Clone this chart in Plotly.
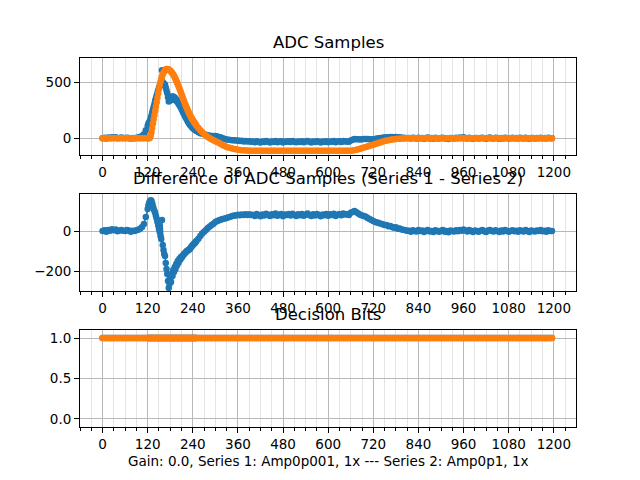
import plotly.graph_objects as go

# ---- data: sample index (denser sampling around the pulse) ----
samples = list(range(0, 120, 5)) + list(range(120, 250, 2)) + list(range(250, 1200, 5))

series2 = [
    # t = 0..115 step 5
    0, 0, 0, 0, 0, 0, 0, 0, 0, 0,
    0, 0, 0, 0, 0, 0, 0, 0, 0, 0,
    0, 0, 0, 0,
    # t = 120..248 step 2
    0, 0, 0, 5, 22, 50, 90, 130, 170, 207,
    245, 283, 321, 360, 400, 440, 472, 502, 527, 550,
    570, 583, 595, 604, 611, 615, 616, 614, 611, 606,
    600, 593, 586, 577, 567, 555, 542, 528, 513, 497,
    480, 463, 446, 429, 411, 392, 373, 354, 336, 318,
    300, 284, 268, 252, 237, 223, 210, 197, 184, 172,
    162, 151, 141, 131, 122,
    # t = 250..1195 step 5
    112, 92, 70, 54, 38, 24, 11, 0, -10, -18,
    -26, -34, -43, -52, -62, -70, -77, -83, -88, -92,
    -96, -99, -102, -104, -106, -108, -109, -110, -111, -111,
    -112, -112, -112, -112, -112, -112, -112, -112, -112, -112,
    -112, -112, -112, -112, -112, -112, -112, -112, -112, -112,
    -112, -112, -112, -112, -112, -112, -112, -112, -112, -112,
    -112, -112, -112, -112, -112, -112, -112, -112, -112, -112,
    -112, -112, -112, -112, -112, -112, -112, -112, -112, -112,
    -112, -112, -112, -110, -107, -103, -98, -93, -88, -83,
    -78, -73, -68, -63, -58, -52, -46, -40, -35, -30,
    -25, -21, -17, -14, -11, -9, -7, -5, -4, -3,
    -2, -1, -1, 0, 0, 0, 0, 0, 0, 0,
    0, 0, 0, 0, 0, 0, 0, 0, 0, 0,
    0, 0, 0, 0, 0, 0, 0, 0, 0, 0,
    0, 0, 0, 0, 0, 0, 0, 0, 0, 0,
    0, 0, 0, 0, 0, 0, 0, 0, 0, 0,
    0, 0, 0, 0, 0, 0, 0, 0, 0, 0,
    0, 0, 0, 0, 0, 0, 0, 0, 0, 0,
    0, 0, 0, 0, 0, 0, 0, 0, 0, 0,
]

series1 = [
    # t = 0..115 step 5
    0, 4, -3, 6, 2, 9, 4, 8, -1, 3,
    6, 2, 1, 5, 3, -3, 2, 0, 4, 7,
    12, 20, 35, 70,
    # t = 120..248 step 2
    110, 130, 142, 155, 177, 202, 230, 255, 280, 307,
    335, 358, 383, 405, 428, 450, 467, 477, 487, 605,
    500, 488, 480, 479, 451, 425, 401, 364, 326, 341,
    360, 338, 371, 352, 372, 350, 362, 338, 348, 325,
    330, 305, 306, 284, 281, 257, 248, 232, 221, 205,
    192, 179, 168, 154, 142, 130, 122, 113, 106, 98,
    92, 85, 79, 73, 69,
    # t = 250..1195 step 5
    64, 54, 45, 42, 35, 30, 26, 23, 20, 19,
    19, 16, 11, 6, -1, -7, -11, -14, -16, -17,
    -18, -21, -20, -25, -23, -28, -25, -30, -27, -31,
    -30, -36, -27, -33, -38, -29, -34, -25, -31, -37,
    -28, -33, -24, -35, -30, -26, -38, -29, -32, -27,
    -34, -25, -31, -36, -28, -33, -27, -35, -30, -24,
    -32, -37, -28, -34, -26, -31, -38, -29, -33, -27,
    -35, -28, -32, -25, -36, -30, -27, -33, -24, -29,
    -28, -32, -20, -14, -7, -9, -10, -11, -10, -7,
    -6, -7, -8, -8, -8, -6, -3, 0, 2, 4,
    6, 9, 7, 12, 10, 8, 12, 7, 9, 5,
    5, 3, 1, 2, -3, 4, 1, -2, 5, 0,
    3, -4, 2, 6, -2, 1, -5, 4, 0, -3,
    2, 5, -3, 0, -6, 3, 1, -2, 4, -1,
    6, 2, 8, 3, -2, 5, 0, -4, 3, 1,
    -3, 2, 5, -1, -5, 3, 6, 0, -2, 4,
    1, -4, 3, -2, 5, 2, -3, 0, 4, -1,
    2, -3, 4, 1, -2, 5, 0, -4, 3, 1,
    -2, 3, 0, 5, -1, 2, -3, 4, 1, 0,
]

difference = [a - b for a, b in zip(series1, series2)]

bits1 = [1] * len(samples)
bits2 = [1] * len(samples)

x_ticks = [0, 120, 240, 360, 480, 600, 720, 840, 960, 1080, 1200]

BLUE = "#1f77b4"
ORANGE = "#ff7f0e"
FONT = "DejaVu Sans"

fig = go.Figure()

def add(x, y, color, xa, ya):
    fig.add_trace(go.Scatter(
        x=x, y=y, mode="lines+markers",
        line=dict(color=color, width=1.5),
        marker=dict(color=color, size=6.5, line=dict(width=0)),
        xaxis=xa, yaxis=ya, showlegend=False))

add(samples, series1, BLUE, "x", "y")
add(samples, series2, ORANGE, "x", "y")
add(samples, difference, BLUE, "x2", "y2")
add(samples, bits1, BLUE, "x3", "y3")
add(samples, bits2, ORANGE, "x3", "y3")

domains = [[0.7369, 1.0], [0.3685, 0.6316], [0.0, 0.2631]]

def xaxis(anchor):
    return dict(
        domain=[0, 1], anchor=anchor, range=[-60, 1259], automargin=False,
        tickvals=x_ticks, ticks="outside", ticklen=4.5, tickwidth=1.1,
        tickcolor="black", showline=True, mirror=True, linecolor="black",
        linewidth=1.1, showgrid=True, gridcolor="#b8b8b8", gridwidth=1,
        zeroline=False, tickfont=dict(family=FONT, size=13.5, color="black"),
        minor=dict(dtick=30, tick0=0, ticks="outside", ticklen=2.8,
                   tickwidth=0.8, tickcolor="black", showgrid=True,
                   gridcolor="#e3e3e3", gridwidth=1),
    )

def yaxis(anchor, dom, rng, vals, texts):
    return dict(
        domain=dom, anchor=anchor, range=rng, tickvals=vals, ticktext=texts,
        automargin=False,
        ticks="outside", ticklen=4.9, tickwidth=1.1, tickcolor="black",
        showline=True, mirror=True, linecolor="black", linewidth=1.1,
        showgrid=True, gridcolor="#b8b8b8", gridwidth=1, zeroline=False,
        tickfont=dict(family=FONT, size=13.5, color="black"),
    )

fig.update_layout(
    width=640, height=480,
    margin=dict(l=72, r=72, t=49.6, b=60.7, pad=0),
    paper_bgcolor="white", plot_bgcolor="white",
    xaxis=xaxis("y"), yaxis=yaxis("x", domains[0], [-150, 714], [0, 500], ["0", "500"]),
    xaxis2=xaxis("y2"), yaxis2=yaxis("x2", domains[1], [-300, 186], [-200, 0], ["\u2212200", "0"]),
    xaxis3=xaxis("y3"), yaxis3=yaxis("x3", domains[2], [-0.1, 1.1], [0, 0.5, 1.0], ["0.0", "0.5", "1.0"]),
)

titles = ["ADC Samples", "Difference of ADC Samples (Series 1 - Series 2)", "Decision Bits"]
for t, d in zip(titles, domains):
    fig.add_annotation(text=t, x=0.5, xref="paper", y=d[1], yref="paper",
                       xanchor="center", yanchor="bottom", yshift=4,
                       showarrow=False, font=dict(family=FONT, size=16.5, color="black"))

fig.add_annotation(text="Gain: 0.0, Series 1: Amp0p001, 1x --- Series 2: Amp0p1, 1x",
                   x=0.5, xref="paper", y=0, yref="paper", xanchor="center",
                   yanchor="middle", yshift=-34, showarrow=False,
                   font=dict(family=FONT, size=13.5, color="black"))

fig.write_html("out.html")
